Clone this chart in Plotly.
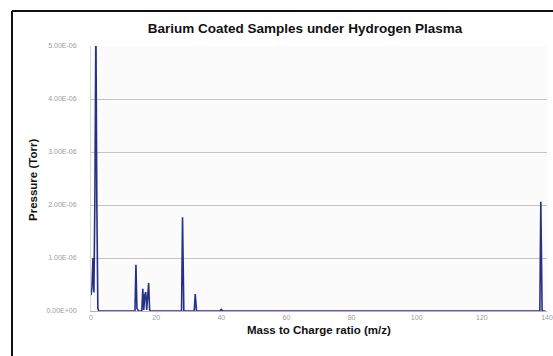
import plotly.graph_objects as go

# Mass-to-charge scan (m/z) and measured pressure (Torr)
mz = [0, 0.3, 0.6, 0.9, 1.2, 1.5, 1.8, 2.1, 2.4, 2.7, 3.0,
      13.0, 13.5, 13.8, 14.1, 14.6,
      15.2, 15.6, 15.9, 16.2, 16.5, 16.8, 17.1, 17.4, 17.7, 18.0, 18.3,
      27.4, 27.8, 28.1, 28.5,
      31.3, 31.7, 32.0, 32.4,
      39.5, 40.0, 40.5,
      137.4, 137.8, 138.1, 138.5, 139.5]
pressure = [0.30e-6, 0.45e-6, 1.00e-6, 0.35e-6, 2.2e-6, 5.4e-6, 2.0e-6, 0.05e-6, 0.0, 0.0, 0.0,
            0.0, 0.0, 0.87e-6, 0.05e-6, 0.0,
            0.0, 0.0, 0.42e-6, 0.02e-6, 0.30e-6, 0.36e-6, 0.02e-6, 0.35e-6, 0.53e-6, 0.02e-6, 0.0,
            0.0, 0.0, 1.77e-6, 0.0,
            0.0, 0.0, 0.32e-6, 0.0,
            0.0, 0.03e-6, 0.0,
            0.0, 0.0, 2.06e-6, 0.0, 0.0]

x_ticks = [0, 20, 40, 60, 80, 100, 120, 140]
y_ticks = [0, 1e-6, 2e-6, 3e-6, 4e-6, 5e-6]
y_tick_labels = ["0.00E+00", "1.00E-06", "2.00E-06", "3.00E-06", "4.00E-06", "5.00E-06"]

W, H = 553, 356
L, T = 91, 46
pw, ph = 456, 265
R = W - L - pw
B = H - T - ph

def px(xp):  # page x -> paper x
    return (xp - L) / pw

def py(yp):  # page y -> paper y
    return (T + ph - yp) / ph

fig = go.Figure()
fig.add_trace(go.Scatter(x=mz, y=pressure, mode="lines",
                         line=dict(color="#272f86", width=1.6),
                         cliponaxis=True, showlegend=False))

font_family = "Liberation Sans, Arial, sans-serif"

fig.update_layout(
    width=W, height=H,
    margin=dict(l=L, r=R, t=T, b=B, autoexpand=False),
    paper_bgcolor="white", plot_bgcolor="#fbfbfb",
    font=dict(family=font_family, color="#222"),
    title=dict(text="<b>Barium Coated Samples under Hydrogen Plasma</b>",
               x=305 / W, xanchor="center", y=1 - 28 / H, yanchor="middle",
               font=dict(size=13.5, color="#111")),
    xaxis=dict(range=[0, 140], tickvals=x_ticks, ticktext=[str(v) for v in x_ticks],
               tickfont=dict(size=7, color="#9c9c9c"), showgrid=False, zeroline=False,
               showline=True, linecolor="#c8a8c0", linewidth=1, ticks="",
               ticklabelstandoff=0, automargin=False),
    yaxis=dict(range=[0, 5e-6], tickvals=y_ticks, ticktext=y_tick_labels,
               tickfont=dict(size=7, color="#9c9c9c"), showgrid=True, gridcolor="#c4c4c4",
               gridwidth=1, zeroline=False, showline=True, linecolor="#d8d8d8",
               linewidth=1, ticks="", ticklabelstandoff=12, automargin=False),
    annotations=[
        dict(text="<b>Mass to Charge ratio (m/z)</b>", xref="paper", yref="paper",
             x=px(319), y=py(330), xanchor="center", yanchor="middle", showarrow=False,
             font=dict(size=11.5, color="#111")),
        dict(text="<b>Pressure (Torr)</b>", xref="paper", yref="paper",
             x=px(33), y=py(180), xanchor="center", yanchor="middle", showarrow=False,
             textangle=-90, font=dict(size=11.5, color="#111")),
    ],
    shapes=[
        dict(type="line", xref="paper", yref="paper",
             x0=px(12), x1=px(12), y0=py(11), y1=py(H),
             line=dict(color="#111", width=2)),
        dict(type="line", xref="paper", yref="paper",
             x0=px(12), x1=px(W), y0=py(11), y1=py(11),
             line=dict(color="#111", width=2)),
    ],
)

fig.write_html("out.html",
               config={"displayModeBar": False},
               post_script=("document.documentElement.style.margin='0';"
                            "document.documentElement.style.overflow='hidden';"
                            "document.body.style.margin='0';"
                            "document.body.style.overflow='hidden';"))
